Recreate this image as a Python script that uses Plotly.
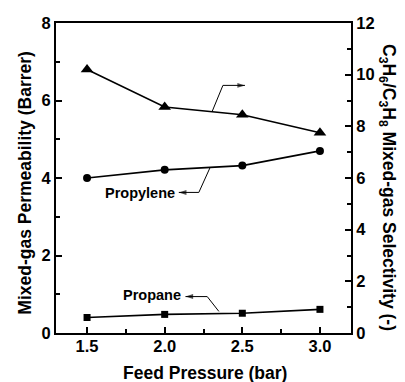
import plotly.graph_objects as go

pressure = [1.5, 2.0, 2.5, 3.0]
propylene = [4.0, 4.21, 4.32, 4.70]
propane = [0.40, 0.48, 0.51, 0.61]
selectivity = [10.2, 8.75, 8.45, 7.75]

x_ticks = [1.5, 2.0, 2.5, 3.0]
y_left_ticks = [0, 2, 4, 6, 8]
y_right_ticks = [0, 2, 4, 6, 8, 10, 12]

# leader-arrow paths (start on curve -> bend -> arrow tip), left-axis units
propylene_arrow_x = [2.291, 2.220, 2.091]
propylene_arrow_y = [4.258, 3.628, 3.628]
propane_arrow_x = [2.349, 2.274, 2.134]
propane_arrow_y = [0.557, 0.940, 0.940]
selectivity_arrow_x = [2.306, 2.375, 2.517]
selectivity_arrow_y = [5.719, 6.39, 6.39]

FONT = "Liberation Sans"
LW = 1.6

fig = go.Figure()
fig.add_trace(go.Scatter(x=pressure, y=propylene, mode="lines+markers",
                         line=dict(color="black", width=LW),
                         marker=dict(symbol="circle", size=8, color="black"),
                         showlegend=False))
fig.add_trace(go.Scatter(x=pressure, y=propane, mode="lines+markers",
                         line=dict(color="black", width=LW),
                         marker=dict(symbol="square", size=7, color="black"),
                         showlegend=False))
fig.add_trace(go.Scatter(x=pressure, y=selectivity, mode="lines+markers",
                         yaxis="y2",
                         line=dict(color="black", width=LW),
                         marker=dict(symbol="triangle-up", size=11, color="black"),
                         showlegend=False))

for ax_, ay_ in [(propylene_arrow_x, propylene_arrow_y),
                 (propane_arrow_x, propane_arrow_y),
                 (selectivity_arrow_x, selectivity_arrow_y)]:
    fig.add_trace(go.Scatter(x=ax_, y=ay_, mode="lines+markers",
                             line=dict(color="black", width=1),
                             marker=dict(symbol="arrow", angleref="previous",
                                         size=[0, 0, 8], color="black",
                                         line=dict(width=0)),
                             hoverinfo="skip", showlegend=False))

tickfont = dict(family=FONT, size=16.5, color="black", weight="bold")
titlefont = dict(family=FONT, size=17.5, color="black", weight="bold")

fig.update_layout(
    width=405, height=382,
    margin=dict(l=56, r=54, t=23, b=49),
    paper_bgcolor="white", plot_bgcolor="white",
    xaxis=dict(range=[1.3, 3.2], tickvals=x_ticks, ticktext=[f"{v:.1f}" for v in x_ticks],
               ticks="inside", ticklen=6, tickwidth=1.5, tickcolor="black",
               automargin=False, ticklabelstandoff=-3,
               minor=dict(tickvals=[1.75, 2.25, 2.75], ticks="inside", ticklen=4,
                          tickwidth=1.5, tickcolor="black"),
               showline=True, linecolor="black", linewidth=2, mirror=True,
               showgrid=False, zeroline=False, tickfont=tickfont),
    yaxis=dict(range=[0, 8], tickvals=y_left_ticks, automargin=False,
               ticks="inside", ticklen=6, tickwidth=1.5, tickcolor="black",
               minor=dict(tickvals=[1, 3, 5, 7], ticks="inside", ticklen=4,
                          tickwidth=1.5, tickcolor="black"),
               showline=True, linecolor="black", linewidth=2,
               showgrid=False, zeroline=False, tickfont=tickfont),
    yaxis2=dict(range=[0, 12], tickvals=y_right_ticks, overlaying="y", side="right",
                automargin=False,
                ticks="inside", ticklen=6, tickwidth=1.5, tickcolor="black",
                minor=dict(tickvals=[1, 3, 5, 7, 9, 11], ticks="inside", ticklen=4,
                           tickwidth=1.5, tickcolor="black"),
                showline=True, linecolor="black", linewidth=2,
                showgrid=False, zeroline=False, tickfont=tickfont),
)

# axis titles
fig.add_annotation(xref="paper", yref="paper", x=0.505, y=-0.128,
                   text="Feed Pressure (bar)", showarrow=False, font=titlefont,
                   xanchor="center", yanchor="middle")
fig.add_annotation(xref="paper", yref="paper", x=-0.104, y=0.486, textangle=-90,
                   text="Mixed-gas Permeability (Barrer)", showarrow=False, font=titlefont,
                   xanchor="center", yanchor="middle")
fig.add_annotation(xref="paper", yref="paper", x=1.123, y=0.47, textangle=90,
                   text="C<sub>3</sub>H<sub>6</sub>/C<sub>3</sub>H<sub>8</sub> Mixed-gas Selectivity (-)",
                   showarrow=False, font=titlefont, xanchor="center", yanchor="middle")

labelfont = dict(family=FONT, size=14.5, color="black", weight="bold")

# series labels
fig.add_annotation(x=1.839, y=3.61, text="Propylene", showarrow=False, font=labelfont)
fig.add_annotation(x=1.919, y=0.99, text="Propane", showarrow=False, font=labelfont)

fig.write_html("out.html")
